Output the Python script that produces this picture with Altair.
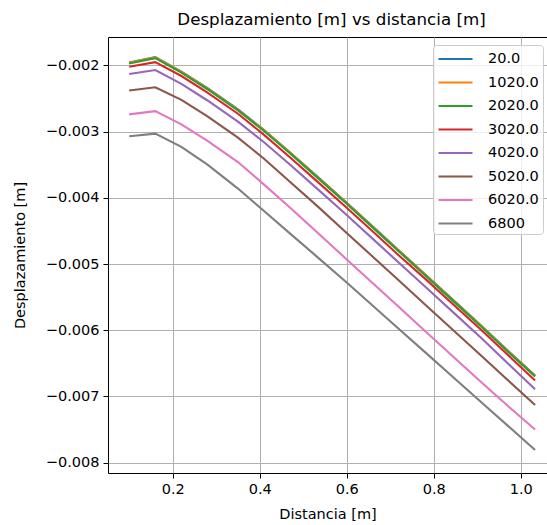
import altair as alt
import pandas as pd

# Distance values (x) in metres
distancia = [0.1, 0.16, 0.22, 0.28, 0.35, 0.41, 0.47, 0.53, 0.6, 0.66, 0.72, 0.78, 0.85, 0.91, 0.97, 1.033]

series_names = ["20.0", "1020.0", "2020.0", "3020.0", "4020.0", "5020.0", "6020.0", "6800"]
series_colors = ["#1f77b4", "#ff7f0e", "#2ca02c", "#d62728", "#9467bd", "#8c564b", "#e377c2", "#7f7f7f"]

s_20 = [-0.001955, -0.001875, -0.002095, -0.002345, -0.002665, -0.002975, -0.003315, -0.003665,
        -0.004075, -0.004435, -0.004795, -0.005155, -0.005575, -0.005935, -0.006305, -0.006685]
s_1020 = [-0.00196, -0.00188, -0.00210, -0.00235, -0.00267, -0.00298, -0.00332, -0.00367,
          -0.00408, -0.00444, -0.00480, -0.00516, -0.00558, -0.00594, -0.00631, -0.00669]
s_2020 = [-0.00197, -0.00189, -0.00211, -0.00236, -0.00268, -0.00299, -0.00333, -0.00368,
          -0.00409, -0.00445, -0.00481, -0.00517, -0.00559, -0.00595, -0.00632, -0.00670]
s_3020 = [-0.00202, -0.00195, -0.00216, -0.00241, -0.00273, -0.00305, -0.00339, -0.00374,
          -0.00415, -0.00451, -0.00487, -0.00522, -0.00564, -0.00600, -0.00637, -0.00676]
s_4020 = [-0.00213, -0.00207, -0.00228, -0.00253, -0.00285, -0.00316, -0.00350, -0.00385,
          -0.00426, -0.00462, -0.00498, -0.00534, -0.00576, -0.00612, -0.00650, -0.00689]
s_5020 = [-0.00238, -0.00233, -0.00252, -0.00277, -0.00309, -0.00341, -0.00376, -0.00411,
          -0.00453, -0.00489, -0.00525, -0.00561, -0.00603, -0.00639, -0.00675, -0.00713]
s_6020 = [-0.00274, -0.00269, -0.00289, -0.00314, -0.00346, -0.00380, -0.00415, -0.00451,
          -0.00493, -0.00529, -0.00565, -0.00601, -0.00643, -0.00679, -0.00714, -0.00750]
s_6800 = [-0.00307, -0.00303, -0.00323, -0.00350, -0.00386, -0.00420, -0.00454, -0.00488,
          -0.00528, -0.00563, -0.00598, -0.00633, -0.00674, -0.00709, -0.00744, -0.00781]

all_series = [s_20, s_1020, s_2020, s_3020, s_4020, s_5020, s_6020, s_6800]

x_ticks = [0.2, 0.4, 0.6, 0.8, 1.0]
y_ticks = [-0.002, -0.003, -0.004, -0.005, -0.006, -0.007, -0.008]

rows = []
for order, (name, vals) in enumerate(zip(series_names, all_series)):
    for xv, yv in zip(distancia, vals):
        rows.append({"serie": name, "orden": order, "Distancia": xv, "Desplazamiento": yv})
df = pd.DataFrame(rows)

FONT = "DejaVu Sans"

chart = alt.Chart(df).mark_line(strokeWidth=2.1, clip=True).encode(
    x=alt.X("Distancia:Q",
            scale=alt.Scale(domain=[0.0513, 1.0604], nice=False, zero=False),
            axis=alt.Axis(title="Distancia [m]", values=x_ticks, format=".1f",
                          titleY=41, titleBaseline="middle", labelPadding=4)),
    y=alt.Y("Desplazamiento:Q",
            scale=alt.Scale(domain=[-0.008156, -0.001571], nice=False, zero=False),
            axis=alt.Axis(title="Desplazamiento [m]", values=y_ticks, format=".3f",
                          titleX=-88, titleY=218, titleAngle=-90, titleBaseline="middle",
                          titleAlign="center", labelPadding=4)),
    color=alt.Color("serie:N",
                    scale=alt.Scale(domain=series_names, range=series_colors),
                    legend=alt.Legend(title=None, orient="none", legendX=325, legendY=8,
                                      symbolType="M-1,0L3,0", symbolSize=289,
                                      symbolStrokeWidth=2.1, labelOffset=31,
                                      rowPadding=6.5, padding=4,
                                      labelFontSize=14.5, labelFont=FONT, labelColor="#000000",
                                      fillColor="rgba(255,255,255,0.8)", strokeColor="#cccccc",
                                      cornerRadius=3)),
    order=alt.Order("orden:Q"),
    detail="serie:N",
).properties(
    width=439,
    height=436,
    title=alt.TitleParams("Desplazamiento [m] vs distancia [m]", font=FONT, fontSize=16.7,
                          fontWeight="normal", color="#000000", anchor="middle", offset=8, dx=4),
    autosize=alt.AutoSizeParams(type="none"),
    padding={"left": 108, "top": 37, "right": 0, "bottom": 52},
).configure_view(
    stroke="#000000", strokeWidth=1
).configure_axis(
    grid=True, gridColor="#b0b0b0", gridWidth=1,
    domain=False, tickColor="#000000", tickSize=5, tickWidth=1,
    labelFont=FONT, labelFontSize=14.5, labelColor="#000000",
    titleFont=FONT, titleFontSize=14.5, titleColor="#000000", titleFontWeight="normal",
)

chart.save("out.html", embed_options={"renderer": "svg", "actions": False})
